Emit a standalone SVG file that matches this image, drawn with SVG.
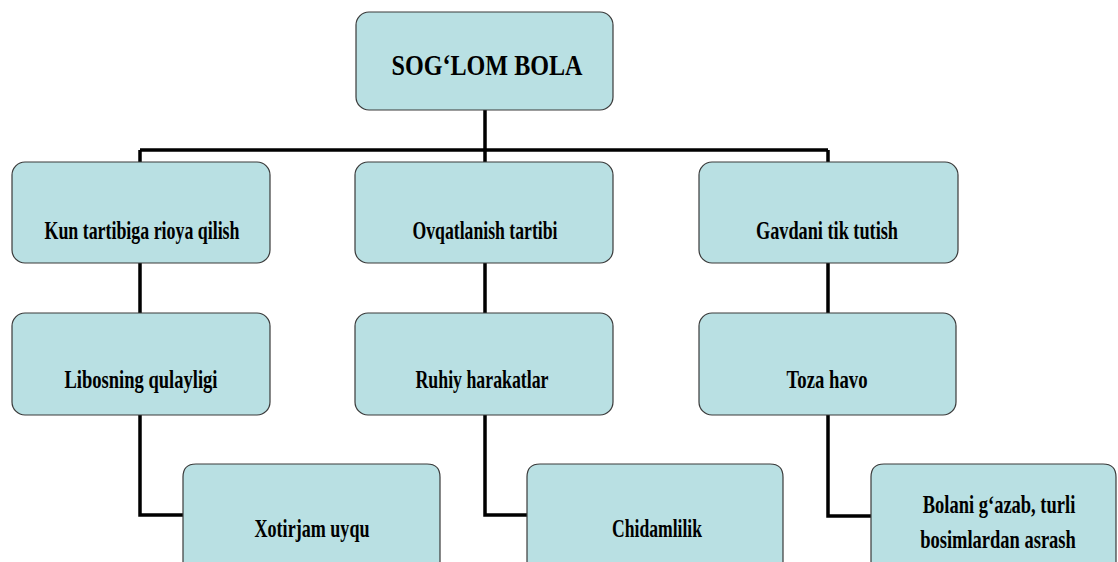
<svg xmlns="http://www.w3.org/2000/svg" width="1118" height="562" viewBox="0 0 1118 562">
<style>
.box{fill:#b9e0e3;stroke:#3a3a3a;stroke-width:1.2}
.t{font-family:"Liberation Serif","Times New Roman",serif;font-weight:bold;font-size:25px;fill:#000;text-anchor:middle}
.r{font-size:29px}
.c{fill:none;stroke:#000;stroke-width:3.5}
</style>
<rect width="1118" height="562" fill="#fff"/>
<g id="connectors">
<path class="c" d="M485 110 V150 M140 150 H828 M140 150 V162 M485 150 V162 M828 150 V162"/>
<path class="c" d="M140 263 V313 M485 263 V313 M828 263 V313"/>
<path class="c" d="M140 415 V515 H183 M485 415 V515 H527 M828 415 V516 H871"/>
</g>
<g id="root">
<rect class="box" x="356" y="12" width="257" height="98" rx="13"/>
<text class="t r" x="487" y="75" textLength="191" lengthAdjust="spacingAndGlyphs">SOG‘LOM BOLA</text>
</g>
<g id="n1">
<rect class="box" x="12" y="162" width="258" height="101" rx="13"/>
<text class="t" x="142" y="239" textLength="195" lengthAdjust="spacingAndGlyphs">Kun tartibiga rioya qilish</text>
</g>
<g id="n2">
<rect class="box" x="355" y="162" width="258" height="101" rx="13"/>
<text class="t" x="485" y="239" textLength="145" lengthAdjust="spacingAndGlyphs">Ovqatlanish tartibi</text>
</g>
<g id="n3">
<rect class="box" x="699" y="162" width="259" height="101" rx="13"/>
<text class="t" x="827" y="239" textLength="142" lengthAdjust="spacingAndGlyphs">Gavdani tik tutish</text>
</g>
<g id="n4">
<rect class="box" x="12" y="313" width="258" height="102" rx="13"/>
<text class="t" x="141" y="388" textLength="153" lengthAdjust="spacingAndGlyphs">Libosning  qulayligi</text>
</g>
<g id="n5">
<rect class="box" x="355" y="313" width="258" height="102" rx="13"/>
<text class="t" x="482" y="388" textLength="133" lengthAdjust="spacingAndGlyphs">Ruhiy harakatlar</text>
</g>
<g id="n6">
<rect class="box" x="699" y="313" width="257" height="102" rx="13"/>
<text class="t" x="827" y="388" textLength="81" lengthAdjust="spacingAndGlyphs">Toza havo</text>
</g>
<g id="n7">
<path class="box" d="M183 562 V477 Q183 464 196 464 H427 Q440 464 440 477 V562"/>
<text class="t" x="312" y="537" textLength="115" lengthAdjust="spacingAndGlyphs">Xotirjam uyqu</text>
</g>
<g id="n8">
<path class="box" d="M527 562 V477 Q527 464 540 464 H770 Q783 464 783 477 V562"/>
<text class="t" x="657" y="537" textLength="90" lengthAdjust="spacingAndGlyphs">Chidamlilik</text>
</g>
<g id="n9">
<path class="box" d="M871 562 V477 Q871 464 884 464 H1103 Q1116 464 1116 477 V562"/>
<text class="t" transform="translate(999 513) scale(0.74 1)">Bolani g‘azab, turli</text>
<text class="t" transform="translate(998 548) scale(0.74 1)">bosimlardan asrash</text>
</g>
</svg>
